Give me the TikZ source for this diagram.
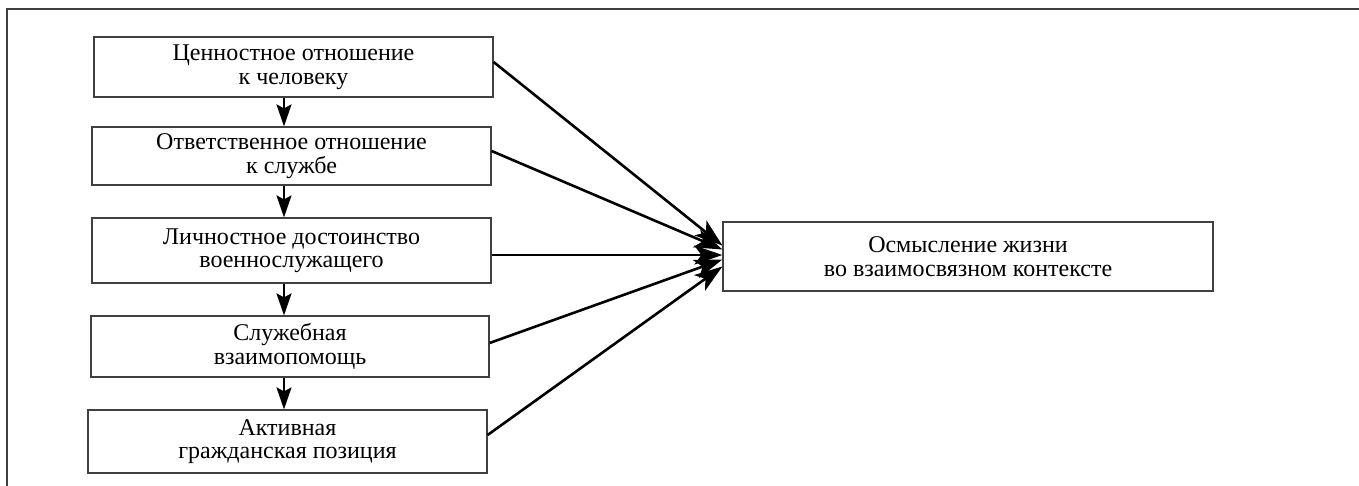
\documentclass[tikz,border=0pt]{standalone}
\usepackage{fontspec}
\setmainfont{Liberation Serif}
\usetikzlibrary{arrows.meta}
\tikzset{
  box/.style={draw=black!75, line width=1.2pt, minimum width=399pt, align=center, font=\fontsize{24}{23.5}\selectfont, inner sep=0pt},
  down/.style={line width=2pt, -{Stealth[length=22pt,width=15pt,inset=4pt]}},
  conv/.style={line width=2.6pt, -{Stealth[length=28pt,width=19pt,inset=7pt]}},
}
\begin{document}
\begin{tikzpicture}[x=1pt,y=-1pt]
\useasboundingbox (0,0) rectangle (1359,486);
\draw[black!75, line width=1.4pt] (7,486) -- (7,9) -- (1359,9);
\node[box, minimum height=60pt] (b1) at (293.5,67) {Ценностное отношение\\к человеку};
\node[box, minimum height=58pt] (b2) at (291.5,156) {Ответственное отношение\\к службе};
\node[box, minimum height=65pt] (b3) at (291.5,250.5) {Личностное достоинство\\военнослужащего};
\node[box, minimum height=61pt, minimum width=398pt] (b4) at (290,346.5) {Служебная\\взаимопомощь};
\node[box, minimum height=63pt] (b5) at (287.5,441.5) {Активная\\гражданская позиция};
\node[box, minimum height=69pt, minimum width=490pt] (t) at (968,256.5) {Осмысление жизни\\во взаимосвязном контексте};
\draw[down] (b1.south -| 284,0) -- (b2.north -| 284,0);
\draw[down] (b2.south -| 284,0) -- (b3.north -| 284,0);
\draw[down] (b3.south -| 284,0) -- (b4.north -| 284,0);
\draw[down] (b4.south -| 284,0) -- (b5.north -| 284,0);
\draw[conv] ([yshift=5pt]b1.east) -- ([yshift=11pt]t.west);
\draw[conv] ([yshift=5pt]b2.east) -- ([yshift=7pt]t.west);
\draw[conv] ([yshift=-4.5pt]b3.east) -- ([yshift=1.5pt]t.west);
\draw[conv] ([yshift=3.5pt]b4.east) -- ([yshift=-3pt]t.west);
\draw[conv] ([yshift=6.5pt]b5.east) -- ([yshift=-10pt]t.west);
\end{tikzpicture}
\end{document}
